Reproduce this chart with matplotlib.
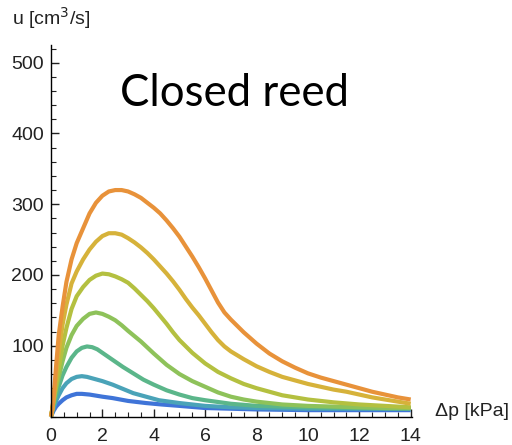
import matplotlib
matplotlib.use("Agg")
import matplotlib.pyplot as plt
from matplotlib.ticker import MultipleLocator

# curves, lowest (blue) to highest (orange)
x_blue = [0, 0.05, 0.1, 0.2, 0.3, 0.45, 0.6, 0.8, 1.0, 1.2, 1.5, 2.0, 2.4, 3.0, 3.7, 4.3, 5.0, 6.0, 7, 8, 10, 12, 14]
y_blue = [0, 4, 8, 14, 18, 23, 27, 30, 32, 32, 31, 28, 26, 22, 19, 17, 15, 12, 11, 10, 9, 9, 9]

x_teal = [0, 0.05, 0.1, 0.2, 0.3, 0.45, 0.6, 0.8, 1.0, 1.2, 1.4, 1.6, 2.0, 2.4, 2.8, 3.2, 3.7, 4.2, 5.0, 6.0, 7.0, 8.0, 10, 12, 14]
y_teal = [0, 6, 12, 22, 30, 40, 47, 53, 56, 57, 56, 54, 50, 45, 39, 33, 28, 23, 19, 15, 13, 12, 11, 11, 11]

x_tealgreen = [0, 0.05, 0.1, 0.2, 0.3, 0.45, 0.6, 0.8, 1.0, 1.2, 1.4, 1.6, 1.8, 2.0, 2.4, 2.8, 3.2, 3.6, 4.0, 4.5, 5.0, 5.5, 6.0, 7.0, 8.0, 10, 12, 14]
y_tealgreen = [0, 8, 16, 30, 42, 58, 70, 83, 92, 97, 99, 98, 95, 90, 80, 70, 61, 52, 45, 37, 31, 26, 23, 18, 15, 13, 12, 11]

x_green = [0, 0.05, 0.1, 0.2, 0.3, 0.45, 0.6, 0.8, 1.0, 1.25, 1.5, 1.75, 2.0, 2.25, 2.5, 2.75, 3.0, 3.5, 4.0, 4.5, 5.0, 5.5, 6.0, 6.5, 7.0, 7.5, 8.0, 9, 10, 11, 12, 13, 14]
y_green = [0, 10, 20, 40, 55, 78, 97, 115, 128, 138, 145, 147, 145, 141, 136, 129, 121, 106, 89, 73, 60, 50, 42, 34, 28, 24, 21, 17, 15, 14, 13, 12, 12]

x_yellowgreen = [0, 0.05, 0.1, 0.2, 0.3, 0.45, 0.6, 0.8, 1.0, 1.25, 1.5, 1.75, 2.0, 2.25, 2.5, 2.75, 3.0, 3.25, 3.5, 3.75, 4.0, 4.25, 4.5, 4.75,
                 5.0, 5.5, 6.0, 6.5, 7.0, 7.5, 8.0, 8.5, 9, 9.5, 10, 11, 12, 13, 14]
y_yellowgreen = [0, 10, 22, 45, 66, 100, 125, 152, 170, 183, 193, 199, 202, 201, 198, 194, 189, 181, 172, 163, 153, 142, 131, 119,
                 108, 90, 75, 63, 54, 46, 40, 35, 30, 27, 24, 20, 17, 15, 13]

x_gold = [0, 0.05, 0.1, 0.2, 0.3, 0.45, 0.6, 0.8, 1.0, 1.25, 1.5, 1.75, 2.0, 2.25, 2.5, 2.75, 3.0, 3.25, 3.5, 3.75, 4.0, 4.25, 4.5, 4.75,
          5.0, 5.25, 5.5, 5.75, 6.0, 6.25, 6.5, 6.75, 7.0, 7.5, 8.0, 8.5, 9.0, 9.5, 10, 10.5, 11, 11.5, 12, 12.5, 13, 13.5, 14]
y_gold = [0, 10, 25, 58, 90, 130, 158, 188, 205, 222, 236, 247, 255, 259, 259, 257, 252, 246, 239, 231, 222, 212, 202, 191,
          179, 166, 154, 143, 131, 119, 108, 99, 92, 81, 71, 63, 56, 51, 46, 42, 38, 35, 31, 27, 24, 21, 18]

x_orange = [0, 0.05, 0.1, 0.2, 0.3, 0.45, 0.6, 0.8, 1.0, 1.25, 1.5, 1.75, 2.0, 2.25, 2.5, 2.75, 3.0, 3.25, 3.5, 3.75, 4.0, 4.25, 4.5, 4.75,
            5.0, 5.25, 5.5, 5.75, 6.0, 6.25, 6.5, 6.75, 7.0, 7.5, 8.0, 8.5, 9.0, 9.5, 10, 10.5, 11, 11.5, 12, 12.5, 13, 13.5, 14]
y_orange = [0, 10, 25, 72, 115, 155, 190, 222, 245, 266, 287, 302, 312, 318, 320, 320, 318, 314, 309, 302, 295, 287, 277, 266,
            254, 240, 226, 211, 195, 178, 161, 147, 137, 119, 103, 89, 78, 69, 61, 55, 50, 45, 40, 35, 31, 27, 24]

curves = [
    (x_blue, y_blue, "#3f74d8"),
    (x_teal, y_teal, "#4aa3b8"),
    (x_tealgreen, y_tealgreen, "#5bb68a"),
    (x_green, y_green, "#8ec25a"),
    (x_yellowgreen, y_yellowgreen, "#b4c040"),
    (x_gold, y_gold, "#d6b23a"),
    (x_orange, y_orange, "#e8923a"),
]

plt.rcParams['font.family'] = ['Liberation Sans', 'DejaVu Sans']

fig = plt.figure(figsize=(5.12, 4.45), dpi=100)
ax = fig.add_axes([51 / 512, 28.5 / 445, 361 / 512, 371.5 / 445])

for xs, ys, col in curves:
    ax.plot(xs, ys, color=col, lw=3.0, solid_joinstyle='round', solid_capstyle='butt', clip_on=False)

ax.set_xlim(0, 14.05)
ax.set_ylim(0, 525)

ax.spines['top'].set_visible(False)
ax.spines['right'].set_visible(False)
for s in ('left', 'bottom'):
    ax.spines[s].set_linewidth(1.0)

ax.xaxis.set_major_locator(MultipleLocator(2))
ax.xaxis.set_minor_locator(MultipleLocator(0.5))
ax.yaxis.set_minor_locator(MultipleLocator(20))
ax.set_yticks([100, 200, 300, 400, 500])
ax.tick_params(which='major', direction='in', length=6, width=1, labelsize=14, colors='#222222')
ax.tick_params(axis='x', which='major', pad=8)
ax.tick_params(axis='y', which='major', pad=5)
ax.tick_params(which='minor', direction='in', length=3.5, width=0.8, colors='#222222')

fig.text(12 / 512, 1 - 18 / 445, "u [cm$^3$/s]", fontsize=14, va='center', ha='left', color='#222222')
fig.text(435 / 512, 1 - 412 / 445, "Δp [kPa]", fontsize=14, va='center', ha='left', color='#222222')
fig.text(234 / 512, 1 - 93 / 445, "Closed reed", fontsize=31.5, family='Lato', va='center', ha='center', color='black')

fig.savefig("out.png", dpi=100)
plt.close(fig)
